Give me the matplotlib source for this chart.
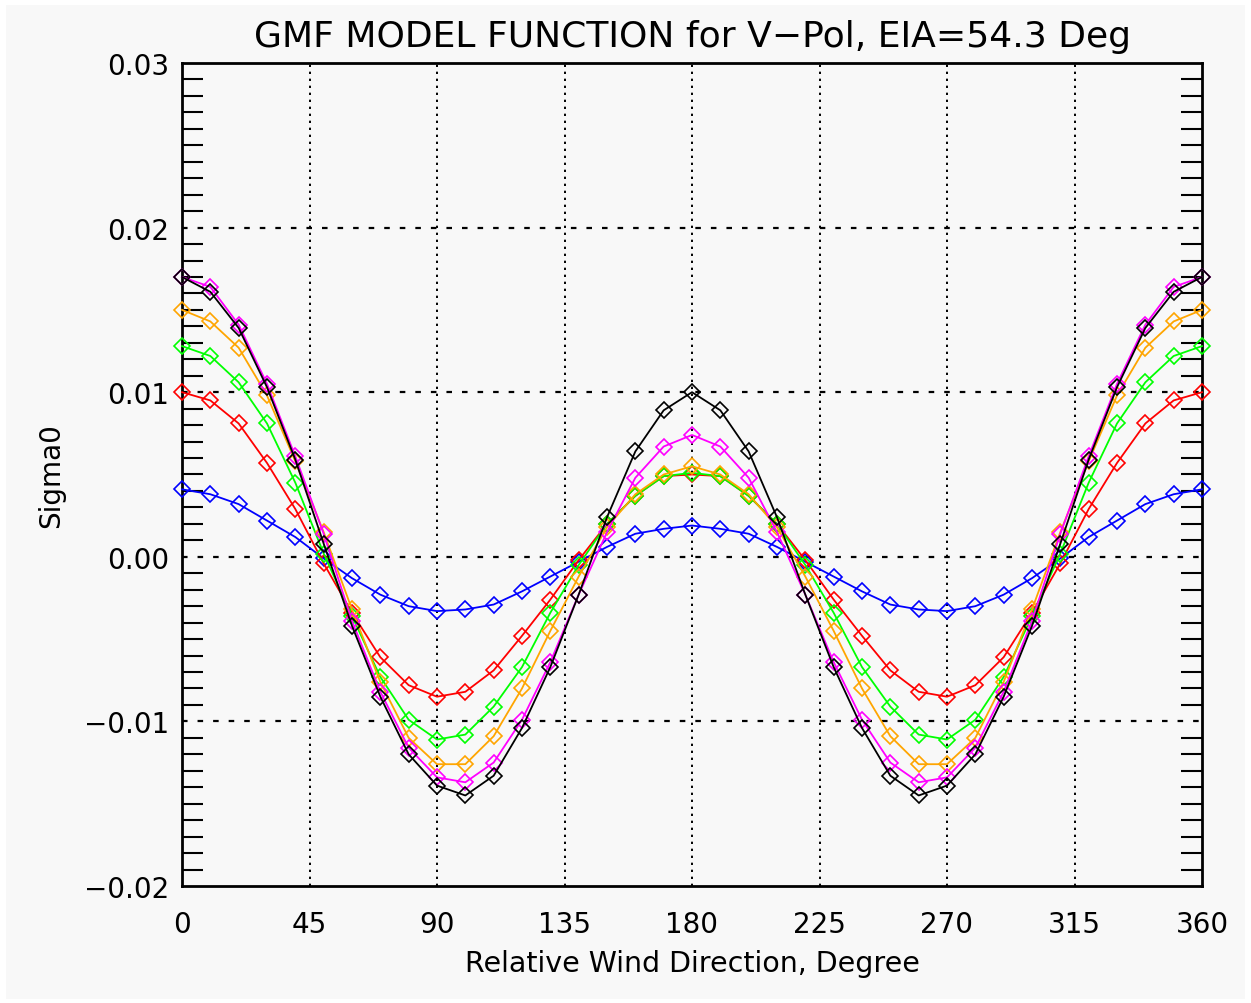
import matplotlib
matplotlib.use("Agg")
import matplotlib.pyplot as plt
from matplotlib.patches import Rectangle
from matplotlib.ticker import FixedLocator

plt.rcParams['font.family'] = ['DejaVu Sans']

# Relative wind direction (deg), sampled every 10 degrees
wind_dir = list(range(0, 361, 10))

# Sigma0 curves, one per wind speed
sigma_blue = [0.0041, 0.0038, 0.0032, 0.0022, 0.0012, -0.0001, -0.0013, -0.0023, -0.0030, -0.0033,
              -0.0032, -0.0029, -0.0021, -0.0012, -0.0003, 0.0006, 0.0014, 0.0017, 0.0019,
              0.0017, 0.0014, 0.0006, -0.0003, -0.0012, -0.0021, -0.0029, -0.0032,
              -0.0033, -0.0030, -0.0023, -0.0013, -0.0001, 0.0012, 0.0022, 0.0032, 0.0038, 0.0041]
sigma_red = [0.0100, 0.0095, 0.0081, 0.0057, 0.0029, -0.0004, -0.0034, -0.0061, -0.0078, -0.0085,
             -0.0082, -0.0069, -0.0048, -0.0026, -0.0002, 0.0020, 0.0037, 0.0049, 0.0050,
             0.0049, 0.0037, 0.0020, -0.0002, -0.0026, -0.0048, -0.0069, -0.0082,
             -0.0085, -0.0078, -0.0061, -0.0034, -0.0004, 0.0029, 0.0057, 0.0081, 0.0095, 0.0100]
sigma_green = [0.0128, 0.0122, 0.0106, 0.0081, 0.0045, 0.0002, -0.0036, -0.0073, -0.0099, -0.0111,
               -0.0108, -0.0091, -0.0067, -0.0034, -0.0005, 0.0020, 0.0037, 0.0049, 0.0051,
               0.0049, 0.0037, 0.0020, -0.0005, -0.0034, -0.0067, -0.0091, -0.0108,
               -0.0111, -0.0099, -0.0073, -0.0036, 0.0002, 0.0045, 0.0081, 0.0106, 0.0122, 0.0128]
sigma_orange = [0.0150, 0.0143, 0.0127, 0.0098, 0.0058, 0.0015, -0.0032, -0.0076, -0.0110, -0.0126,
                -0.0126, -0.0109, -0.0080, -0.0045, -0.0012, 0.0018, 0.0038, 0.0050, 0.0055,
                0.0050, 0.0038, 0.0018, -0.0012, -0.0045, -0.0080, -0.0109, -0.0126,
                -0.0126, -0.0110, -0.0076, -0.0032, 0.0015, 0.0058, 0.0098, 0.0127, 0.0143, 0.0150]
sigma_magenta = [0.0170, 0.0164, 0.0141, 0.0105, 0.0061, 0.0014, -0.0039, -0.0082, -0.0116, -0.0134,
                 -0.0137, -0.0125, -0.0099, -0.0064, -0.0023, 0.0015, 0.0048, 0.0067, 0.0074,
                 0.0067, 0.0048, 0.0015, -0.0023, -0.0064, -0.0099, -0.0125, -0.0137,
                 -0.0134, -0.0116, -0.0082, -0.0039, 0.0014, 0.0061, 0.0105, 0.0141, 0.0164, 0.0170]
sigma_black = [0.0170, 0.0161, 0.0139, 0.0103, 0.0059, 0.0008, -0.0042, -0.0085, -0.0120, -0.0139,
               -0.0145, -0.0133, -0.0104, -0.0067, -0.0023, 0.0024, 0.0064, 0.0089, 0.0100,
               0.0089, 0.0064, 0.0024, -0.0023, -0.0067, -0.0104, -0.0133, -0.0145,
               -0.0139, -0.0120, -0.0085, -0.0042, 0.0008, 0.0059, 0.0103, 0.0139, 0.0161, 0.0170]

series = [sigma_blue, sigma_red, sigma_green, sigma_orange, sigma_magenta, sigma_black]
colors = ['#0000ff', '#ff0000', '#00ff00', '#ffa500', '#ff00ff', '#000000']

x_ticks = [0, 45, 90, 135, 180, 225, 270, 315, 360]
y_ticks = [-0.02, -0.01, 0.00, 0.01, 0.02, 0.03]
y_tick_labels = ['\u22120.02', '\u22120.01', '0.00', '0.01', '0.02', '0.03']

bg = '#f8f8f8'
fig = plt.figure(figsize=(12.51, 10.04), dpi=100, facecolor='white')
fig.patches.append(Rectangle((6 / 1251, 4 / 1004), 1239 / 1251, 994 / 1004,
                             transform=fig.transFigure, facecolor=bg,
                             edgecolor='none', zorder=-10))

ax = fig.add_axes([182 / 1251, 117 / 1004, 1020 / 1251, 823 / 1004])
ax.set_facecolor(bg)

for vals, c in zip(series, colors):
    ax.plot(wind_dir, vals, color=c, lw=1.3, marker='D', markersize=8,
            markerfacecolor='none', markeredgecolor=c, markeredgewidth=1.2,
            clip_on=False, zorder=3)

ax.set_xlim(0, 360)
ax.set_ylim(-0.02, 0.03)

# grid lines stand in for the major ticks
for xv in x_ticks[1:-1]:
    ax.axvline(xv, color='black', lw=1.4, linestyle=(0, (1.2, 2.4)), zorder=1)
for yv in y_ticks[1:-1]:
    ax.axhline(yv, color='black', lw=1.6, linestyle=(0, (2.5, 4.5)), zorder=1)

ax.set_xticks(x_ticks)
ax.set_xticklabels([str(v) for v in x_ticks])
ax.set_yticks(y_ticks)
ax.set_yticklabels(y_tick_labels)
ax.yaxis.set_minor_locator(FixedLocator([k / 1000 for k in range(-20, 31) if k % 10 != 0]))

ax.tick_params(axis='both', which='major', length=0, labelsize=20)
ax.tick_params(axis='x', which='major', pad=17)
ax.tick_params(axis='y', which='major', pad=9)
ax.tick_params(axis='y', which='minor', direction='in', length=15, width=1.5,
               left=True, right=True, color='black')
ax.tick_params(axis='x', which='minor', length=0)

for side in ['left', 'right', 'top', 'bottom']:
    ax.spines[side].set_linewidth(2)
    ax.spines[side].set_color('black')

ax.set_title('GMF MODEL FUNCTION for V\u2212Pol, EIA=54.3 Deg', fontsize=26, pad=12)
ax.set_xlabel('Relative Wind Direction, Degree', fontsize=20.5, labelpad=8)
ax.set_ylabel('Sigma0', fontsize=20, labelpad=14)

fig.savefig('out.png', dpi=100, facecolor=fig.get_facecolor())
